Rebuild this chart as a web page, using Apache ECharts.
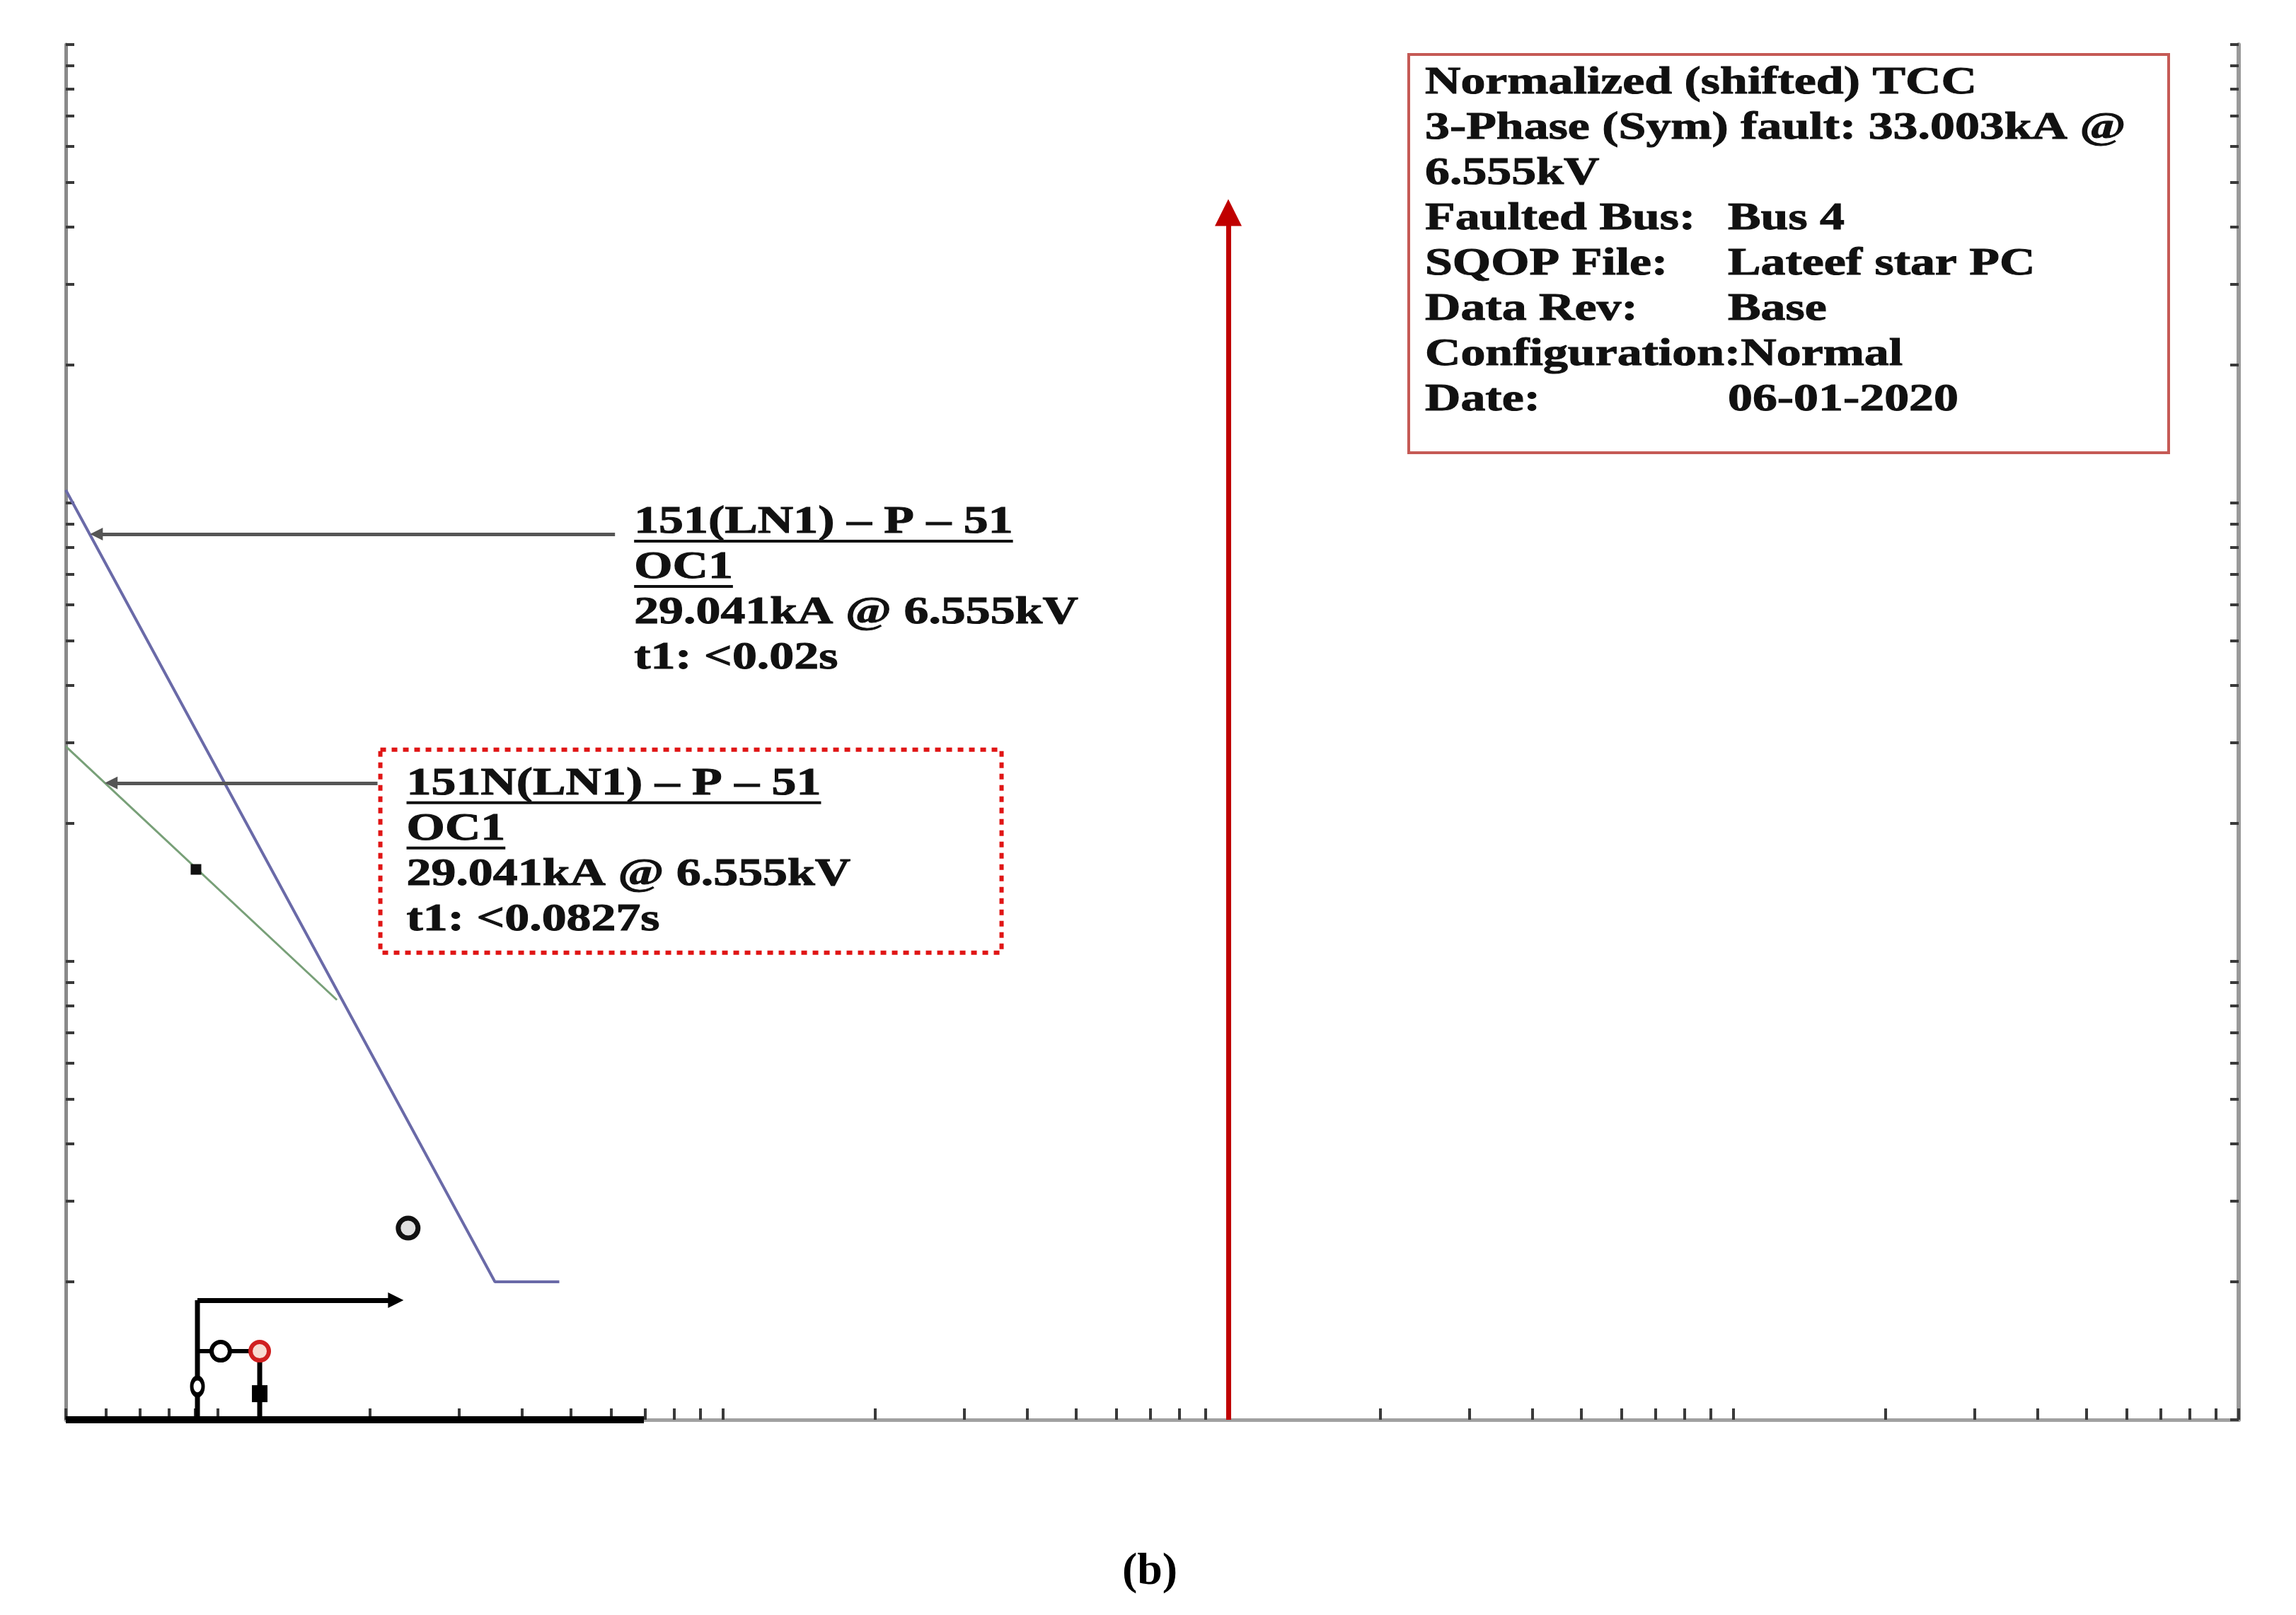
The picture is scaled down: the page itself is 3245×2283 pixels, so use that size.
<!DOCTYPE html>
<html>
<head>
<meta charset="utf-8">
<script src="https://cdn.jsdelivr.net/npm/echarts@6/dist/echarts.min.js"></script>
<style>
html, body { margin: 0; padding: 0; background: #fff; }
#chart { width: 3245px; height: 2283px; }
</style>
</head>
<body>
<div id="chart"></div>
<script>
// log axis ticks (current multiples / time in s)
const xTicks = [0.5, 0.6, 0.7, 0.8, 0.9, 1, 2, 3, 4, 5, 6, 7, 8, 9, 10, 20, 30, 40, 50, 60, 70, 80, 90,
  100, 200, 300, 400, 500, 600, 700, 800, 900, 1000, 2000, 3000, 4000, 5000, 6000, 7000, 8000, 9000, 10000];
const yTicks = [0.01, 0.02, 0.03, 0.04, 0.05, 0.06, 0.07, 0.08, 0.09, 0.1, 0.2, 0.3, 0.4, 0.5, 0.6, 0.7, 0.8, 0.9,
  1, 2, 3, 4, 5, 6, 7, 8, 9, 10];

// relay curves
const phaseCurve = [[0.5, 1.067], [3.535, 0.02], [4.74, 0.02]];
const groundCurve = [[0.5, 0.2945], [1.72, 0.0824]];
const groundMarker = [[0.905, 0.1587]];

// fault current arrow
const faultArrow = [[100, 0.01], [100, 4.3]];

// callout leaders (label end -> curve)
const phaseCallout = [[6.11, 0.855], [0.575, 0.855]];
const groundCallout = [[2.07, 0.245], [0.615, 0.245]];

// one-line sketch
const busBar = [[0.5, 0.01], [6.97, 0.01]];
const feederRiser = [[0.911, 0.01], [0.911, 0.01823]];
const feederArrow = [[0.911, 0.01823], [2.25, 0.01823]];
const relayTap = [[0.911, 0.01411], [1.21, 0.01411]];
const relayDrop = [[1.21, 0.01], [1.21, 0.01411]];
const ctMark = [[0.911, 0.01182]];
const relayOpen = [[1.013, 0.01411]];
const relayRed = [[1.21, 0.01411]];
const breakerMark = [[1.21, 0.0114]];
const pickupMark = [[2.38, 0.02619]];

// texts
const infoLines = [
  ['Normalized (shifted) TCC', ''],
  ['3-Phase (Sym) fault: 33.003kA @', ''],
  ['6.555kV', ''],
  ['Faulted Bus:', 'Bus 4'],
  ['SQOP File:', 'Lateef star PC'],
  ['Data Rev:', 'Base'],
  ['Configuration:Normal', ''],
  ['Date:', '06-01-2020']
];
const phaseLabel = ['151(LN1) \u2013 P \u2013 51', 'OC1', '29.041kA @ 6.555kV', 't1: <0.02s'];
const groundLabel = ['151N(LN1) \u2013 P \u2013 51', 'OC1', '29.041kA @ 6.555kV', 't1: <0.0827s'];

const FONT = 'bold 55px "Liberation Serif"';
const SX = 1.27;
const LINE_H = 64;

function seg(name, data, color, width) {
  return {
    name, type: 'line', data, symbol: 'none', showSymbol: false, clip: false, silent: true,
    lineStyle: { color, width }, z: 3
  };
}
function arrow(name, coords, color, width, head) {
  return {
    name, type: 'lines', coordinateSystem: 'cartesian2d', silent: true, z: 4,
    symbol: ['none', 'triangle'], symbolSize: head,
    lineStyle: { color, width, opacity: 1, curveness: 0 },
    data: [{ coords }]
  };
}
function dot(name, data, symbol, size, fill, stroke, bw) {
  return {
    name, type: 'scatter', data, symbol, symbolSize: size, silent: true, clip: false, z: 5,
    itemStyle: { color: fill, borderColor: stroke, borderWidth: bw, opacity: 1 }
  };
}

const logAxis = (ticks, extra) => Object.assign({
  type: 'log', logBase: 10,
  axisLabel: { show: false },
  splitLine: { show: false },
  axisTick: { show: true, inside: true, length: 12, customValues: ticks, lineStyle: { color: '#3a3a3a', width: 4 } }
}, extra);

const option = {
  animation: false,
  backgroundColor: '#fff',
  grid: { left: 93, right: 81, top: 63, bottom: 276, containLabel: false },
  xAxis: logAxis(xTicks, {
    min: 0.5, max: 10000,
    axisLine: { show: true, onZero: false, lineStyle: { color: '#a0a0a0', width: 5 } },
    axisTick: { show: true, inside: true, length: 16, customValues: xTicks, lineStyle: { color: '#3a3a3a', width: 4 } }
  }),
  yAxis: [
    logAxis(yTicks, { min: 0.01, max: 10, position: 'left',
      axisLine: { show: true, onZero: false, lineStyle: { color: '#8a8a8a', width: 5 } } }),
    logAxis(yTicks, { min: 0.01, max: 10, position: 'right',
      axisLine: { show: true, onZero: false, lineStyle: { color: '#9a9a9a', width: 6 } } })
  ],
  series: [
    seg('bus', busBar, '#000', 10),
    seg('riser', feederRiser, '#000', 7),
    seg('tap', relayTap, '#000', 6),
    seg('drop', relayDrop, '#000', 7),
    arrow('feeder', feederArrow, '#000', 7, 22),
    seg('151(LN1)', phaseCurve, '#6a6aa8', 4),
    seg('151N(LN1)', groundCurve, '#78a078', 3),
    arrow('fault', faultArrow, '#c00000', 7, 38),
    arrow('callout1', phaseCallout, '#555', 5, 18),
    arrow('callout2', groundCallout, '#555', 5, 18),
    dot('gmark', groundMarker, 'rect', 15, '#111', '#111', 0),
    dot('ct', ctMark, 'circle', [16, 24], '#fff', '#000', 6),
    dot('relay', relayOpen, 'circle', 26, '#fff', '#000', 6),
    dot('relayRed', relayRed, 'circle', 26, '#f8dcd2', '#d02020', 6),
    dot('breaker', breakerMark, 'rect', [22, 24], '#000', '#000', 0),
    dot('pickup', pickupMark, 'circle', 28, '#e0e0e0', '#111', 7)
  ]
};

const chart = echarts.init(document.getElementById('chart'));
chart.setOption(option);

// annotation text
const ctx = document.createElement('canvas').getContext('2d');
function textW(t) { ctx.font = FONT; return ctx.measureText(t).width * SX; }
function txt(t, x, y) {
  return { type: 'text', x, y, scaleX: SX, z: 20,
    style: { text: t, font: FONT, fill: '#111', stroke: '#111', lineWidth: 1,
      textAlign: 'left', textVerticalAlign: 'middle', align: 'left', verticalAlign: 'middle' } };
}
function uline(x, y, w) {
  return { type: 'line', z: 20, shape: { x1: x, y1: y, x2: x + w, y2: y }, style: { stroke: '#111', lineWidth: 4 } };
}
function labelBlock(lines, x, y) {
  const out = [];
  lines.forEach((t, i) => {
    const cy = y + i * LINE_H;
    out.push(txt(t, x, cy));
    if (i < 2) out.push(uline(x, cy + 26, textW(t)));
  });
  return out;
}

const p1 = chart.convertToPixel({ gridIndex: 0 }, phaseCallout[0]);
const p2 = chart.convertToPixel({ gridIndex: 0 }, groundCallout[0]);

const graphics = [];
// info box
graphics.push({ type: 'rect', z: 15, shape: { x: 1991, y: 77, width: 1074, height: 563 },
  style: { fill: '#fff', stroke: '#c55a55', lineWidth: 4 } });
infoLines.forEach((row, i) => {
  const cy = 118 + i * LINE_H;
  graphics.push(txt(row[0], 2014, cy));
  if (row[1]) graphics.push(txt(row[1], 2442, cy));
});
// phase label
graphics.push(...labelBlock(phaseLabel, p1[0] + 27, p1[1] - 16));
// ground label with dotted box
graphics.push({ type: 'rect', z: 15, shape: { x: p2[0] + 4, y: p2[1] - 47, width: 878, height: 287 },
  style: { fill: '#fff', stroke: '#e01515', lineWidth: 6, lineDash: [8, 8] } });
graphics.push(...labelBlock(groundLabel, p2[0] + 41, p2[1] + 2));
// caption
graphics.push({ type: 'text', x: 1625, y: 2222, z: 20,
  style: { text: '(b)', font: 'bold 64px "Liberation Serif"', fill: '#000',
    textAlign: 'center', textVerticalAlign: 'middle', align: 'center', verticalAlign: 'middle' } });

chart.setOption({ graphic: graphics });
</script>
</body>
</html>
